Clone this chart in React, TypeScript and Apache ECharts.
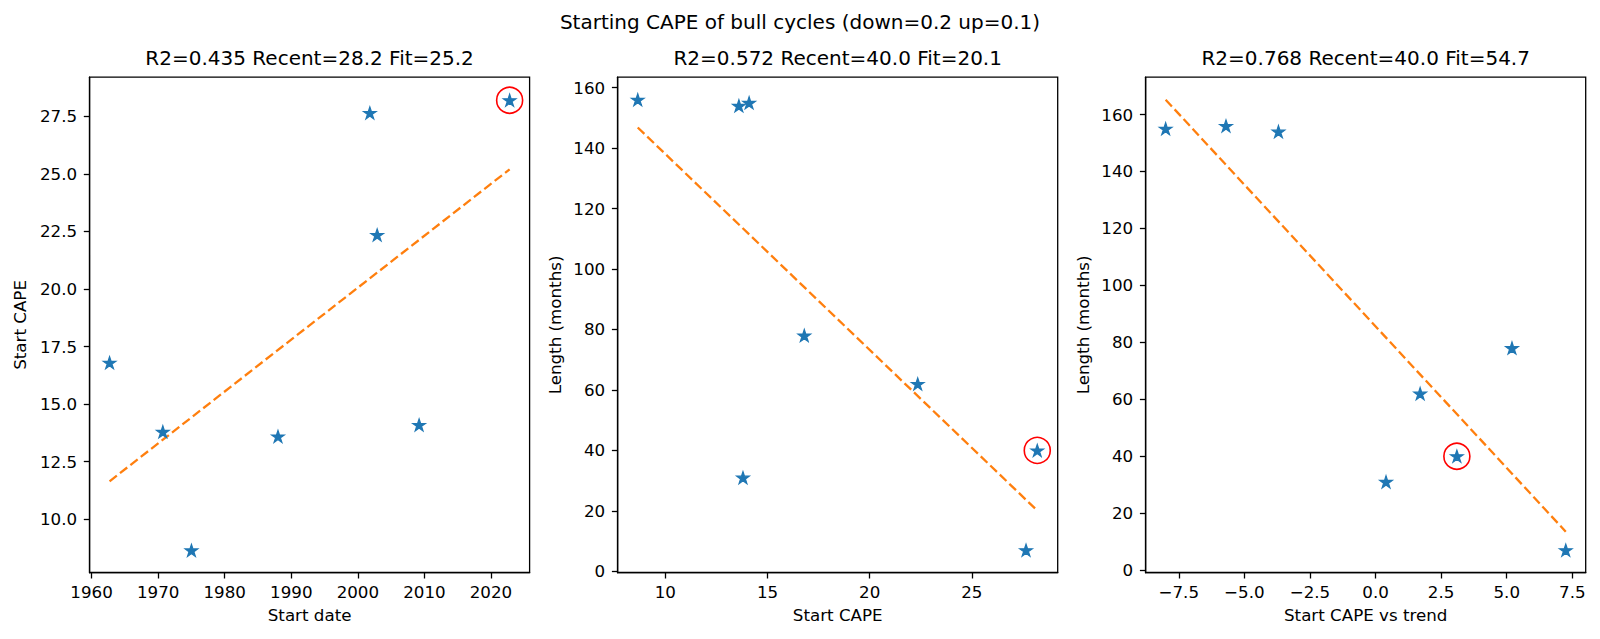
import React, { useEffect, useRef } from "react";
import * as echarts from "echarts";

// ---- data ----
const startDates = [1962.7, 1970.7, 1975.0, 1988.0, 2001.8, 2002.9, 2009.2, 2022.8];
const startCape = [16.8, 13.8, 8.65, 13.6, 27.65, 22.35, 14.1, 28.2];
const lengths = [78, 31, 156, 154, 7, 62, 155, 40];
const capeVsTrend = [5.2, 0.4, -5.7, -3.7, 7.25, 1.7, -8.0, 3.1];

const fit1X = [1962.7, 2022.8];
const fit1Y = [11.65, 25.2];
const fit2X = [8.65, 28.2];
const fit2Y = [146.8, 20.1];
const fit3X = [-8.0, 7.25];
const fit3Y = [165.2, 13.5];

const suptitle = "Starting CAPE of bull cycles (down=0.2 up=0.1)";
const panelTitles = [
  "R2=0.435 Recent=28.2 Fit=25.2",
  "R2=0.572 Recent=40.0 Fit=20.1",
  "R2=0.768 Recent=40.0 Fit=54.7",
];
const xNames = ["Start date", "Start CAPE", "Start CAPE vs trend"];
const yNames = ["Start CAPE", "Length (months)", "Length (months)"];

const xTicks1 = [1960, 1970, 1980, 1990, 2000, 2010, 2020];
const yTicks1 = [10, 12.5, 15, 17.5, 20, 22.5, 25, 27.5];
const xTicks2 = [10, 15, 20, 25];
const yTicks2 = [0, 20, 40, 60, 80, 100, 120, 140, 160];
const xTicks3 = [-7.5, -5, -2.5, 0, 2.5, 5, 7.5];
const yTicks3 = [0, 20, 40, 60, 80, 100, 120, 140, 160];

const xRanges = [[1959.7, 2025.8], [7.67, 29.2], [-8.76, 8.01]];
const yRanges = [[7.68, 29.2], [-0.45, 163.45], [-0.91, 173.1]];

// ---- styling ----
const FONT = "DejaVu Sans";
const BLUE = "#1f77b4";
const ORANGE = "#ff7f0e";
const GRID_LEFTS = [89.6, 617.7, 1145.7];
const GRID_TOP = 77.2;
const GRID_W = 440;
const GRID_H = 495.5;
const Y_NAME_GAPS = [61, 54.5, 54];

const starPath = (() => {
  let d = "";
  for (let i = 0; i < 10; i++) {
    const a = ((-90 + i * 36) * Math.PI) / 180;
    const r = i % 2 ? 0.382 : 1;
    d += (i ? "L" : "M") + (r * Math.cos(a)).toFixed(4) + " " + (r * Math.sin(a)).toFixed(4) + " ";
  }
  return "path://" + d + "Z";
})();

const fmt1 = (v: number) => {
  const s = Math.abs(v).toFixed(1);
  return v < 0 ? "\u2212" + s : s;
};
const fmt0 = (v: number) => (v < 0 ? "\u2212" + Math.abs(v) : String(v));

function makeAxis(
  kind: "x" | "y",
  idx: number,
  range: number[],
  ticks: number[],
  formatter: (v: number) => string,
  name: string
) {
  return {
    type: "value",
    gridIndex: idx,
    min: range[0],
    max: range[1],
    name,
    nameLocation: "middle",
    nameGap: kind === "x" ? 34 : Y_NAME_GAPS[idx],
    nameTextStyle: { fontFamily: FONT, fontSize: 16.7, color: "#000" },
    axisLine: { show: true, onZero: false, lineStyle: { color: "#000", width: 1.3 } },
    axisTick: {
      show: true,
      length: 5.8,
      inside: false,
      customValues: ticks,
      lineStyle: { color: "#000", width: 1.3 },
    },
    axisLabel: {
      show: true,
      customValues: ticks,
      formatter: (v: number) => formatter(v),
      margin: kind === "x" ? 11 : 12.5,
      fontFamily: FONT,
      fontSize: 16.7,
      color: "#000",
    },
    splitLine: { show: false },
  };
}

function toPairs(xs: number[], ys: number[]) {
  return xs.map((x, i) => [x, ys[i]]);
}

export default function App() {
  const ref = useRef<HTMLDivElement>(null);

  useEffect(() => {
    if (!ref.current) return;
    const chart = echarts.init(ref.current, null, { renderer: "svg" });

    const xsets = [startDates, startCape, capeVsTrend];
    const ysets = [startCape, lengths, lengths];
    const fits = [
      [fit1X, fit1Y],
      [fit2X, fit2Y],
      [fit3X, fit3Y],
    ];

    const series: any[] = [];
    for (let i = 0; i < 3; i++) {
      series.push({
        type: "line",
        xAxisIndex: i,
        yAxisIndex: i,
        data: toPairs(fits[i][0], fits[i][1]),
        symbol: "none",
        showSymbol: false,
        lineStyle: { color: ORANGE, width: 2.3, type: [9.2, 4] },
        z: 2,
        silent: true,
      });
      series.push({
        type: "scatter",
        xAxisIndex: i,
        yAxisIndex: i,
        data: toPairs(xsets[i], ysets[i]),
        symbol: starPath,
        symbolSize: [12.6, 12],
        itemStyle: { color: BLUE, opacity: 1, borderColor: BLUE, borderWidth: 1.2, borderJoin: "miter" },
        z: 3,
        silent: true,
      });
      const n = xsets[i].length - 1;
      series.push({
        type: "scatter",
        xAxisIndex: i,
        yAxisIndex: i,
        data: [[xsets[i][n], ysets[i][n]]],
        symbol: "circle",
        symbolSize: 26,
        itemStyle: { color: "none", borderColor: "#ff0000", borderWidth: 1.6, opacity: 1 },
        z: 4,
        silent: true,
      });
    }

    const fmtsX = [fmt0, fmt0, fmt1];
    const fmtsY = [fmt1, fmt0, fmt0];
    const xTicks = [xTicks1, xTicks2, xTicks3];
    const yTicks = [yTicks1, yTicks2, yTicks3];

    const graphic: any[] = [
      {
        type: "text",
        x: 800,
        y: 22.4,
        style: {
          text: suptitle,
          fontFamily: FONT,
          fontSize: 20,
          fill: "#000",
          align: "center",
          verticalAlign: "middle",
          textAlign: "center",
          textVerticalAlign: "middle",
        },
      },
    ];
    for (let i = 0; i < 3; i++) {
      graphic.push({
        type: "text",
        x: GRID_LEFTS[i] + GRID_W / 2,
        y: 58.4,
        style: {
          text: panelTitles[i],
          fontFamily: FONT,
          fontSize: 20,
          fill: "#000",
          align: "center",
          verticalAlign: "middle",
          textAlign: "center",
          textVerticalAlign: "middle",
        },
      });
    }

    chart.setOption({
      animation: false,
      backgroundColor: "#ffffff",
      textStyle: { fontFamily: FONT },
      grid: GRID_LEFTS.map((l) => ({
        left: l,
        top: GRID_TOP,
        width: GRID_W,
        height: GRID_H,
        show: true,
        borderColor: "#000",
        borderWidth: 1.3,
        backgroundColor: "transparent",
        containLabel: false,
      })),
      xAxis: [0, 1, 2].map((i) => makeAxis("x", i, xRanges[i], xTicks[i], fmtsX[i], xNames[i])),
      yAxis: [0, 1, 2].map((i) => makeAxis("y", i, yRanges[i], yTicks[i], fmtsY[i], yNames[i])),
      series,
      graphic,
    });

    return () => {
      chart.dispose();
    };
  }, []);

  return (
    <div
      ref={ref}
      style={{ position: "fixed", left: 0, top: 0, width: 1600, height: 639, background: "#fff" }}
    />
  );
}
